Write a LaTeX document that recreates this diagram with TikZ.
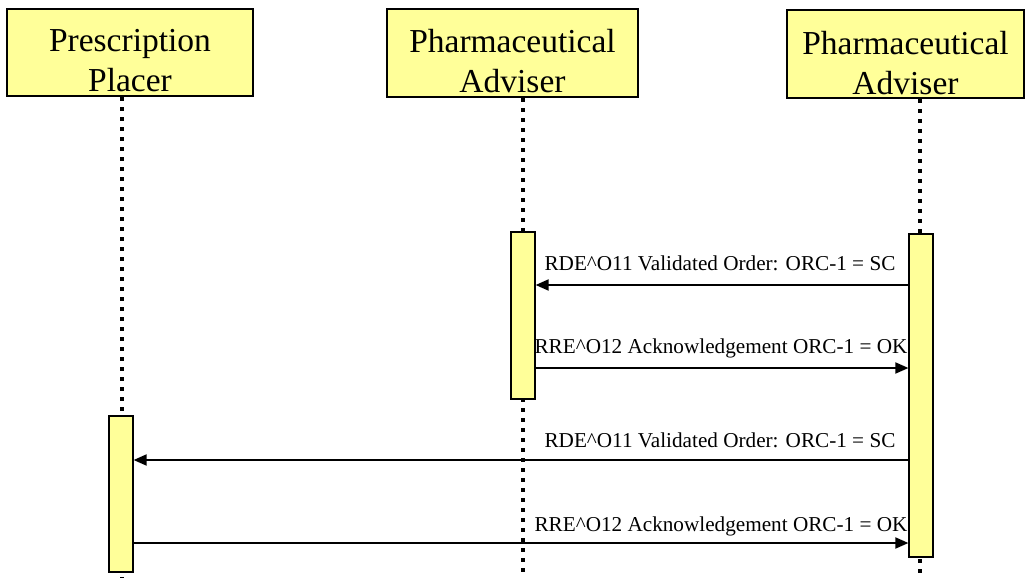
\documentclass[tikz,border=0pt]{standalone}
\usepackage{fontspec}
\setmainfont{Liberation Serif}
\usetikzlibrary{arrows.meta}
\definecolor{paleyellow}{HTML}{FFFF99}
\tikzset{
  head/.style={draw=black, line width=1.5pt, fill=paleyellow, inner sep=0pt},
  headtext/.style={font=\fontsize{33.5}{40}\selectfont, align=center, inner sep=0pt},
  actbar/.style={draw=black, line width=1.2pt, fill=paleyellow, inner sep=0pt, minimum width=24pt},
  life/.style={line width=4pt, dash pattern=on 4pt off 6pt},
  msg/.style={line width=1.8pt, -{Triangle[length=13pt,width=11pt]}},
  lbl/.style={font=\fontsize{21.2}{24}\selectfont, inner sep=0pt}
}
\begin{document}
\begin{tikzpicture}[x=1pt,y=-1pt]
\useasboundingbox (0,0) rectangle (1026,578);
% header boxes
\node[head, minimum width=246pt, minimum height=87pt] (h1) at (130,52.5) {};
\node[head, minimum width=251pt, minimum height=88pt] (h2) at (512.5,53) {};
\node[head, minimum width=237pt, minimum height=88pt] (h3) at (905.5,54) {};
\node[headtext] (h1t) at (130,61) {Prescription\\Placer};
\node[headtext] (h2t) at (512.5,61) {Pharmaceutical\\Adviser};
\node[headtext] (h3t) at (905.5,63) {Pharmaceutical\\Adviser};
% lifeline ends
\coordinate (l1t) at (122,97);
\coordinate (l1b) at (122,578);
\coordinate (l2t) at (523,98);
\coordinate (l2b) at (523,578);
\coordinate (l3t) at (920,99);
\coordinate (l3b) at (920,578);
\draw[life] (l1t) -- (l1b);
\draw[life] (l2t) -- (l2b);
\draw[life] (l3t) -- (l3b);
% activation bars
\node[actbar, minimum height=167pt] (b2) at (523,315.5) {};
\node[actbar, minimum height=323pt] (b3) at (921,395.5) {};
\node[actbar, minimum height=156pt] (b1) at (121,494) {};
% message rows
\coordinate (y1) at (0,285);
\coordinate (y2) at (0,368);
\coordinate (y3) at (0,460);
\coordinate (y4) at (0,543);
\draw[msg] (b3.west |- y1) -- (b2.east |- y1);
\draw[msg] (b2.east |- y2) -- (b3.west |- y2);
\draw[msg] (b3.west |- y3) -- (b1.east |- y3);
\draw[msg] (b1.east |- y4) -- (b3.west |- y4);
% labels
\node[lbl] (t1) at (720,263) {RDE\^{}O11 Validated Order: ORC-1 = SC};
\node[lbl] (t2) at (721,348) {RRE\^{}O12 Acknowledgement ORC-1 = OK};
\node[lbl] (t3) at (720,440) {RDE\^{}O11 Validated Order: ORC-1 = SC};
\node[lbl] (t4) at (721,526) {RRE\^{}O12 Acknowledgement ORC-1 = OK};
\end{tikzpicture}
\end{document}
